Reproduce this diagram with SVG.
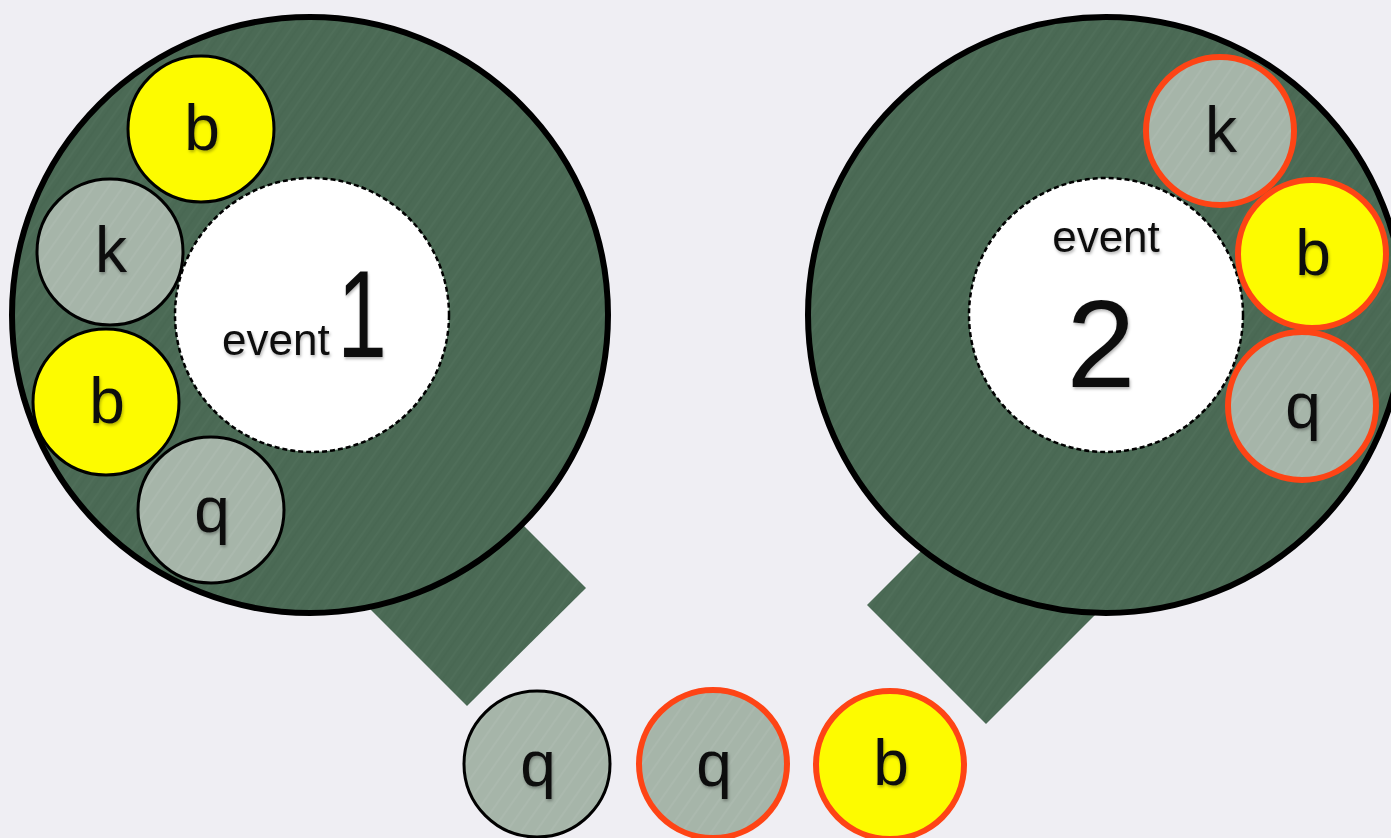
<svg xmlns="http://www.w3.org/2000/svg" width="1391" height="838" viewBox="0 0 1391 838">
  <defs>
    <pattern id="tex" patternUnits="userSpaceOnUse" width="12" height="12" patternTransform="rotate(-55)">
      <rect width="12" height="12" fill="#4b6a55"/>
      <line x1="0" y1="3" x2="12" y2="3" stroke="#5b7b65" stroke-width="1" opacity="0.45"/>
      <line x1="0" y1="8" x2="12" y2="8" stroke="#405e4a" stroke-width="1" opacity="0.4"/>
    </pattern>
    <pattern id="texg" patternUnits="userSpaceOnUse" width="12" height="12" patternTransform="rotate(-55)">
      <rect width="12" height="12" fill="#a6b5a9"/>
      <line x1="0" y1="4" x2="12" y2="4" stroke="#b4c1b6" stroke-width="1.2" opacity="0.5"/>
    </pattern>
    <filter id="sh" x="-30%" y="-30%" width="160%" height="160%">
      <feDropShadow dx="1" dy="2" stdDeviation="1.5" flood-color="#000" flood-opacity="0.3"/>
    </filter>
    <style>
      .bg { fill: #efeef3; }
      .spout { fill: url(#tex); }
      .ring { fill: url(#tex); stroke: #000; stroke-width: 6; }
      .hole { fill: #fff; stroke: #000; stroke-width: 2.5; stroke-dasharray: 5 3; }
      .gray { fill: url(#texg); }
      .yel { fill: #fdfb00; }
      .blk { stroke: #000; stroke-width: 3; }
      .red { stroke: #fe4415; stroke-width: 6; }
      .lbl { font-family: "Liberation Sans", Arial, sans-serif; font-size: 64px; fill: #111; text-anchor: middle; filter: url(#sh); }
      .ev { font-family: "Liberation Sans", Arial, sans-serif; font-size: 44px; fill: #111; filter: url(#sh); }
      .num { font-family: "Liberation Sans", Arial, sans-serif; font-size: 124px; fill: #111; filter: url(#sh); }
    </style>
  </defs>
  <rect class="bg" x="0" y="0" width="1391" height="838"/>
  <g id="connectors"/>

  <g id="event1">
    <polygon class="spout" points="467,706 586,588 386,388 267,506"/>
    <circle class="ring" cx="310" cy="315" r="298"/>
    <circle class="hole" cx="312" cy="315" r="137"/>
    <text class="ev" x="222" y="355">event</text>
    <text class="num" x="0" y="0" text-anchor="middle" transform="translate(362,357) scale(0.72,1)">1</text>
  </g>

  <g id="event2">
    <polygon class="spout" points="867,605 986,724 1186,524 1067,405"/>
    <circle class="ring" cx="1106" cy="315" r="298"/>
    <circle class="hole" cx="1106" cy="315" r="137"/>
    <text class="ev" x="1106" y="252" text-anchor="middle">event</text>
    <text class="num" x="1101" y="387" text-anchor="middle">2</text>
  </g>

  <g id="e1-b1"><circle class="yel blk" cx="201" cy="129" r="73"/><text class="lbl" x="202" y="150">b</text></g>
  <g id="e1-k"><circle class="gray blk" cx="110" cy="252" r="73"/><text class="lbl" x="111" y="272">k</text></g>
  <g id="e1-b2"><circle class="yel blk" cx="106" cy="402" r="73"/><text class="lbl" x="107" y="423">b</text></g>
  <g id="e1-q"><circle class="gray blk" cx="211" cy="510" r="73"/><text class="lbl" x="212" y="532">q</text></g>

  <g id="e2-k"><circle class="gray red" cx="1220" cy="131" r="74"/><text class="lbl" x="1221" y="152">k</text></g>
  <g id="e2-b"><circle class="yel red" cx="1312" cy="254" r="74"/><text class="lbl" x="1313" y="275">b</text></g>
  <g id="e2-q"><circle class="gray red" cx="1302" cy="406" r="74"/><text class="lbl" x="1303" y="428">q</text></g>

  <g id="out-q1"><circle class="gray blk" cx="537" cy="764" r="73"/><text class="lbl" x="538" y="786">q</text></g>
  <g id="out-q2"><circle class="gray red" cx="713" cy="764" r="74"/><text class="lbl" x="714" y="786">q</text></g>
  <g id="out-b"><circle class="yel red" cx="890" cy="765" r="74"/><text class="lbl" x="891" y="785">b</text></g>
</svg>
